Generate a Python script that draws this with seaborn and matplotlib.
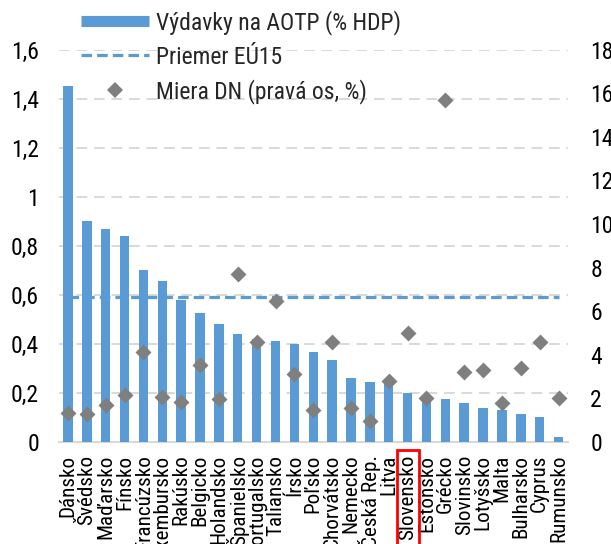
import numpy as np
import pandas as pd
import matplotlib
matplotlib.use("Agg")
import matplotlib.pyplot as plt
from matplotlib import font_manager
from matplotlib.font_manager import FontProperties
from matplotlib.textpath import TextPath
from matplotlib.lines import Line2D
from matplotlib.patches import Rectangle
from matplotlib.transforms import blended_transform_factory
import seaborn as sns

# --- data -------------------------------------------------------------
countries = ["Dánsko", "Švédsko", "Maďarsko", "Fínsko", "Francúzsko",
             "Luxembursko", "Rakúsko", "Belgicko", "Holandsko", "Španielsko",
             "Portugalsko", "Taliansko", "Írsko", "Poľsko", "Chorvátsko",
             "Nemecko", "Česká Rep.", "Litva", "Slovensko", "Estónsko",
             "Grécko", "Slovinsko", "Lotyšsko", "Malta", "Bulharsko",
             "Cyprus", "Rumunsko"]
spending = [1.45, 0.90, 0.87, 0.84, 0.70, 0.655, 0.58, 0.525, 0.48, 0.44,
            0.42, 0.41, 0.40, 0.365, 0.335, 0.26, 0.245, 0.24, 0.20, 0.18,
            0.175, 0.16, 0.14, 0.13, 0.115, 0.10, 0.02]
unemployment = [1.35, 1.27, 1.68, 2.16, 4.15, 2.05, 1.85, 3.55, 1.95, 7.7,
                4.6, 6.45, 3.1, 1.47, 4.6, 1.55, 0.97, 2.8, 5.0, 2.0,
                15.7, 3.2, 3.3, 1.78, 3.4, 4.6, 2.0]
eu15_avg = 0.59
highlight = "Slovensko"

left_ticks = [0, 0.2, 0.4, 0.6, 0.8, 1.0, 1.2, 1.4, 1.6]
left_labels = ["0", "0,2", "0,4", "0,6", "0,8", "1", "1,2", "1,4", "1,6"]
right_ticks = [0, 2, 4, 6, 8, 10, 12, 14, 16, 18]
right_labels = ["0", "2", "4", "6", "8", "10", "12", "14", "16", "18"]

legend_labels = ["Výdavky na AOTP (% HDP)", "Priemer EÚ15",
                 "Miera DN (pravá os, %)"]

# --- style ------------------------------------------------------------
BLUE = "#5B9BD5"
GREY = "#7F7F7F"
GRID = "#D9D9D9"

sns.set_theme(style="white")

# prefer a narrow sans face; otherwise fall back to Liberation Sans
installed = {f.name for f in font_manager.fontManager.ttflist}
family = "Liberation Sans"
for cand in ["Liberation Sans Narrow", "Arial Narrow", "Roboto Condensed",
             "Noto Sans Condensed", "Open Sans Condensed",
             "Noto Sans SemiCondensed", "Open Sans SemiCondensed"]:
    if cand in installed:
        family = cand
        break
else:
    for nm in sorted(installed):
        if ("Narrow" in nm or "Condensed" in nm) and "Mono" not in nm \
                and "Serif" not in nm:
            family = nm
            break
plt.rcParams["font.family"] = [family, "DejaVu Sans"]

# size the text so the legend's first entry spans about 244 px
probe = TextPath((0, 0), legend_labels[0], size=10,
                 prop=FontProperties(family=family))
FS = 10 * (244 * 0.72) / probe.get_extents().width
FS = min(FS, 17.5)
FS_CAT = FS * 0.89
fs_px = FS * 100 / 72

df = pd.DataFrame({"country": countries, "spending": spending,
                   "unemployment": unemployment})
n = len(countries)
pos = np.arange(n)

fig = plt.figure(figsize=(6.11, 5.44), dpi=100)
fig.subplots_adjust(left=58.5 / 611, right=568 / 611,
                    bottom=(544 - 442) / 544, top=(544 - 49.5) / 544)
ax = fig.add_subplot(111)

# horizontal dashed grid
for t in left_ticks[1:]:
    ax.axhline(t, color=GRID, lw=1.4, ls=(0, (5.5, 3.5)), zorder=0)

sns.barplot(data=df, x="country", y="spending", order=countries,
            color=BLUE, saturation=1, width=0.5, edgecolor="none",
            linewidth=0, ax=ax, zorder=2)

sns.lineplot(x=pos, y=np.full(n, eu15_avg), color=BLUE, lw=2.3,
             ax=ax, zorder=3)
ax.lines[-1].set_linestyle((0, (3.3, 1.6)))
ax.lines[-1].set_dash_capstyle("butt")

ax.set_xlim(-0.5, n - 0.5)
ax.set_ylim(0, 1.6)
ax.set_yticks(left_ticks)
ax.set_yticklabels(left_labels, fontsize=FS, color="black")
ax.set_xticks(pos)
ax.set_xticklabels(countries, rotation=90, fontsize=FS_CAT, color="black",
                   ha="center", va="top")
ax.tick_params(axis="x", length=0, pad=9)
ax.tick_params(axis="y", length=0, pad=14)
ax.set_xlabel("")
ax.set_ylabel("")
for s in ["top", "right", "left"]:
    ax.spines[s].set_visible(False)
ax.spines["bottom"].set_color(GRID)
ax.spines["bottom"].set_linewidth(1.5)
ax.spines["bottom"].set_zorder(1)

ax2 = ax.twinx()
sns.scatterplot(x=pos, y=unemployment, marker="D", s=66, color=GREY,
                linewidth=0, ax=ax2, zorder=4)
ax2.set_ylim(0, 18)
ax2.set_yticks(right_ticks)
ax2.set_yticklabels(right_labels, fontsize=FS, color="black")
ax2.tick_params(axis="y", length=0, pad=16)
ax2.set_ylabel("")
ax2.set_xlim(-0.5, n - 0.5)
for s in ax2.spines.values():
    s.set_visible(False)
ax2.grid(False)
ax.grid(False)

# red frame around the highlighted country label
hi = countries.index(highlight)
tr = blended_transform_factory(ax.transData, ax.transAxes)
ax.add_patch(Rectangle((hi - 0.58, -0.35), 1.16, 0.33, transform=tr,
                       fill=False, edgecolor="#FF0000", lw=2,
                       clip_on=False, zorder=5))

# legend
handles = [
    Line2D([0], [0], color=BLUE, lw=8, solid_capstyle="butt"),
    Line2D([0], [0], color=BLUE, lw=2.3, ls=(0, (3.3, 1.6)),
           dash_capstyle="butt"),
    Line2D([0], [0], color=GREY, marker="D", markersize=8.1, lw=0,
           markeredgewidth=0),
]
fig.legend(handles, legend_labels, loc="upper left",
           bbox_to_anchor=(81 / 611, 1 - 10 / 544), frameon=False,
           fontsize=FS, handlelength=68 / fs_px, handletextpad=7 / fs_px,
           labelspacing=0.45, borderpad=0, borderaxespad=0)

fig.savefig("out.png", dpi=100)
